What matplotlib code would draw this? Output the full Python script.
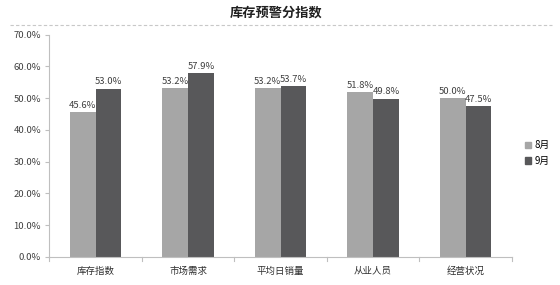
import matplotlib
matplotlib.use("Agg")
import matplotlib.pyplot as plt
import numpy as np
from matplotlib.lines import Line2D

plt.rcParams['font.family'] = ['Noto Sans CJK SC', 'DejaVu Sans']

categories = ['库存指数', '市场需求', '平均日销量', '从业人员', '经营状况']
series_names = ['8月', '9月']
aug = [45.6, 53.2, 53.2, 51.8, 50.0]
sep = [53.0, 57.9, 53.7, 49.8, 47.5]
yticks = [0, 10, 20, 30, 40, 50, 60, 70]

fig = plt.figure(figsize=(5.6, 2.85), dpi=100)
ax = fig.add_axes([0.088, 0.099, 0.826, 0.779])

x = np.arange(len(categories))
w = 0.28
c1, c2 = '#a6a6a6', '#58585a'
b1 = ax.bar(x - w/2, aug, w, color=c1, label=series_names[0])
b2 = ax.bar(x + w/2, sep, w, color=c2, label=series_names[1])
for bars, vals in ((b1, aug), (b2, sep)):
    for r, v in zip(bars, vals):
        ax.text(r.get_x() + r.get_width()/2, v + 0.8, f'{v:.1f}%', ha='center', va='bottom',
                fontsize=6.8, color='#404040')

ax.set_xlim(-0.5, len(categories) - 0.5)
ax.set_ylim(0, 70)
ax.set_yticks(yticks)
ax.set_yticklabels([f'{t:.1f}%' for t in yticks], fontsize=6.8, color='#404040')
ax.set_xticks(x)
ax.set_xticklabels(categories, fontsize=6.8, color='#303030')
ax.tick_params(axis='x', length=0, pad=7)
ax.tick_params(axis='y', length=3, color='#bfbfbf', pad=3)
for b in np.arange(-0.5, len(categories), 1.0):
    ax.plot([b, b], [0, -1.2], color='#bfbfbf', lw=0.8, clip_on=False)
for s in ['top', 'right']:
    ax.spines[s].set_visible(False)
for s in ['left', 'bottom']:
    ax.spines[s].set_color('#bfbfbf')
    ax.spines[s].set_linewidth(0.8)

fig.text(0.494, 0.955, '库存预警分指数', ha='center', va='center', fontsize=9.5,
         fontweight='bold', color='#202020')
fig.add_artist(Line2D([0.018, 0.985], [0.913, 0.913], color='#c8c8c8', lw=0.8,
                      ls=(0, (3, 2)), transform=fig.transFigure))

handles = [plt.Rectangle((0, 0), 1, 1, color=c1), plt.Rectangle((0, 0), 1, 1, color=c2)]
fig.legend(handles, series_names, loc='center', bbox_to_anchor=(0.96, 0.463), frameon=False,
           fontsize=7, handlelength=0.6, handleheight=0.6, handletextpad=0.4, labelspacing=0.6)

fig.savefig('out.png', dpi=100, facecolor='white')
